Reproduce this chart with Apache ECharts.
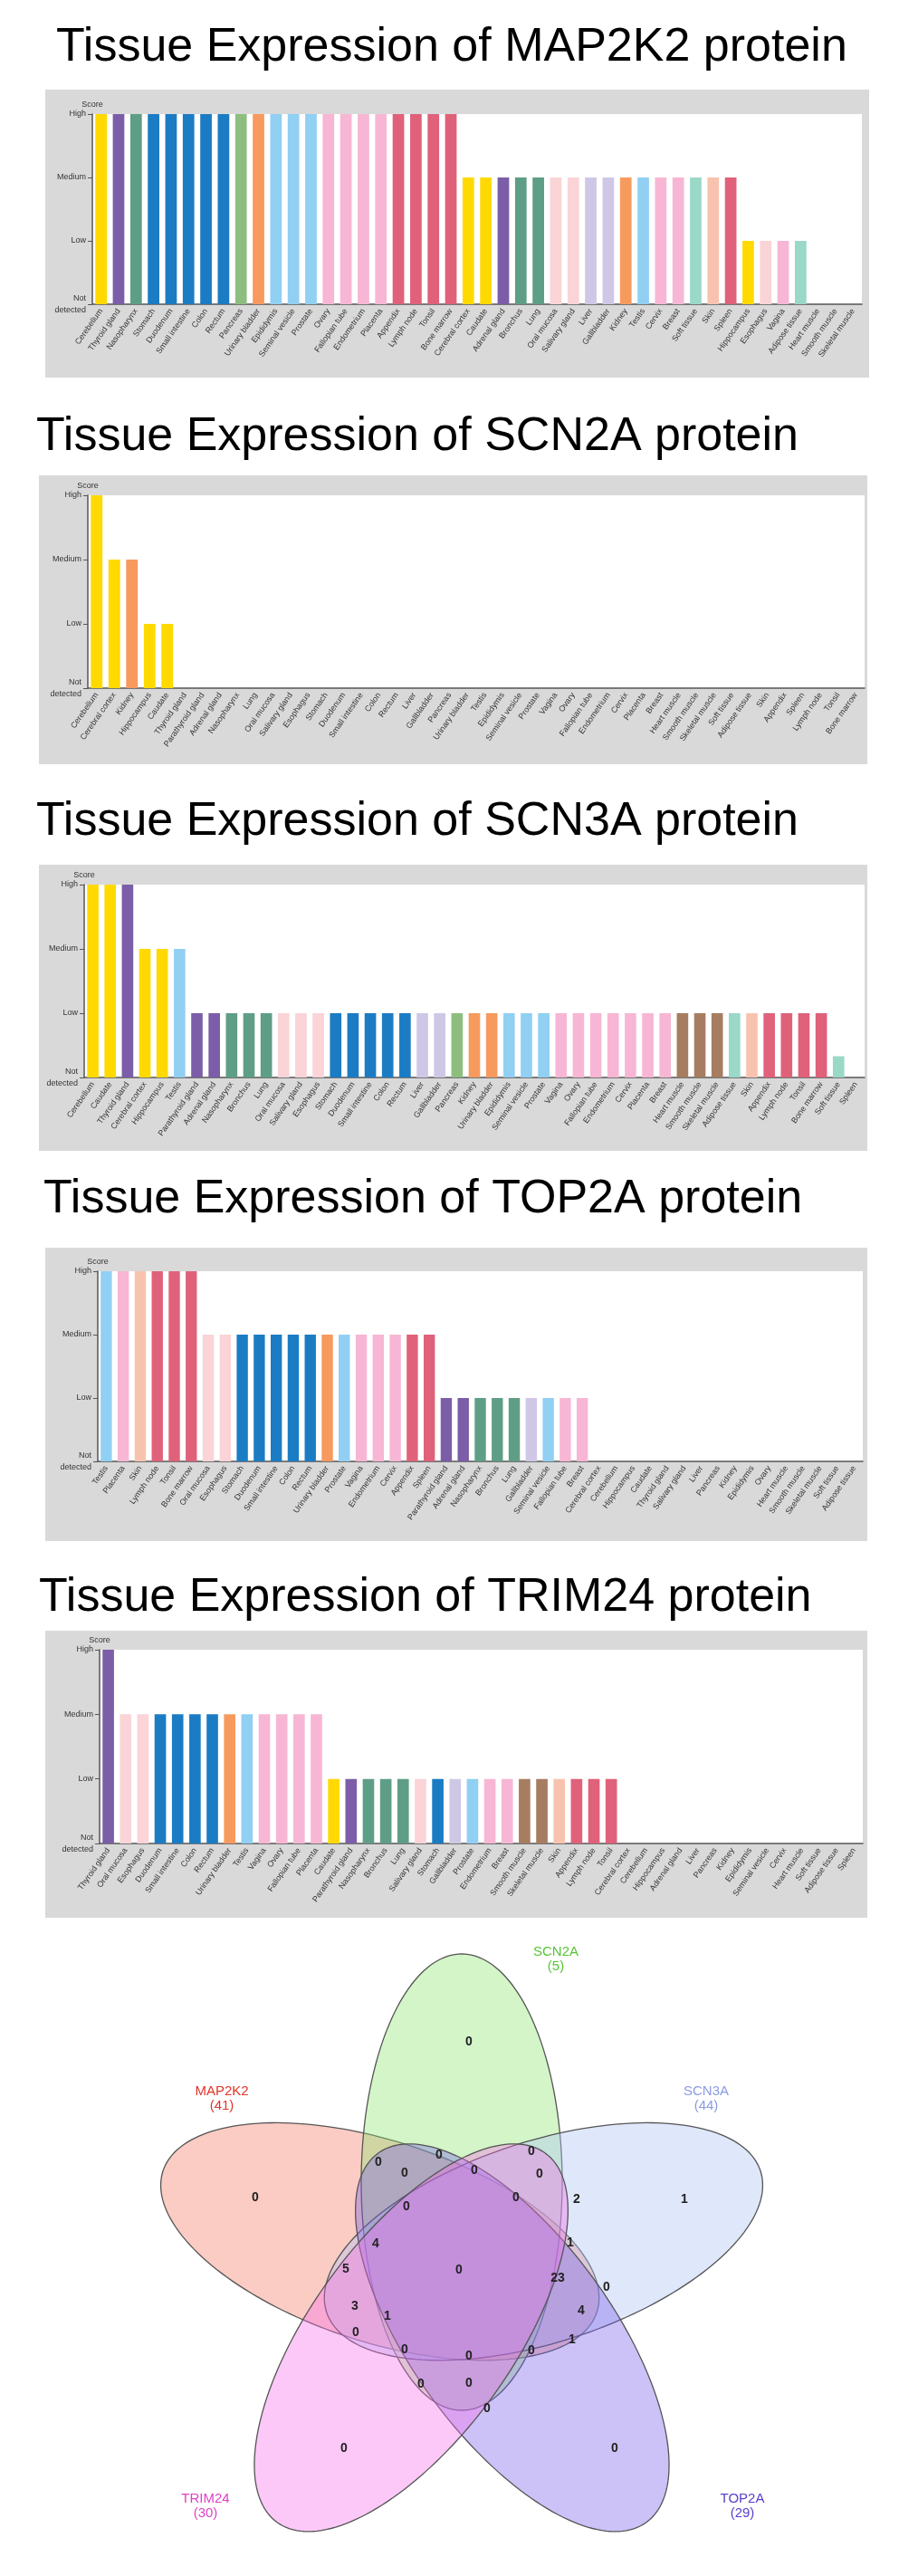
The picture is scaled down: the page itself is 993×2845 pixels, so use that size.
<!DOCTYPE html>
<html><head><meta charset="utf-8">
<script src="https://cdn.jsdelivr.net/npm/echarts@6/dist/echarts.min.js"></script>
<style>html,body{margin:0;padding:0;background:#fff}#c{width:993px;height:2845px}</style>
</head><body><div id="c"></div>
<script>
// ---------- DATA ----------
const LEVELS = ['Not\ndetected', 'Low', 'Medium', 'High'];
const PROTEINS = ['MAP2K2', 'SCN2A', 'SCN3A', 'TOP2A', 'TRIM24'];

const map2k2Tissues = ['Cerebellum','Thyroid gland','Nasopharynx','Stomach','Duodenum','Small intestine','Colon','Rectum','Pancreas','Urinary bladder','Epididymis','Seminal vesicle','Prostate','Ovary','Fallopian tube','Endometrium','Placenta','Appendix','Lymph node','Tonsil','Bone marrow','Cerebral cortex','Caudate','Adrenal gland','Bronchus','Lung','Oral mucosa','Salivary gland','Liver','Gallbladder','Kidney','Testis','Cervix','Breast','Soft tissue','Skin','Spleen','Hippocampus','Esophagus','Vagina','Adipose tissue','Heart muscle','Smooth muscle','Skeletal muscle'];
const map2k2Scores = [3,3,3,3,3,3,3,3,3,3,3,3,3,3,3,3,3,3,3,3,3,2,2,2,2,2,2,2,2,2,2,2,2,2,2,2,2,1,1,1,1,0,0,0];

const scn2aTissues = ['Cerebellum','Cerebral cortex','Kidney','Hippocampus','Caudate','Thyroid gland','Parathyroid gland','Adrenal gland','Nasopharynx','Lung','Oral mucosa','Salivary gland','Esophagus','Stomach','Duodenum','Small intestine','Colon','Rectum','Liver','Gallbladder','Pancreas','Urinary bladder','Testis','Epididymis','Seminal vesicle','Prostate','Vagina','Ovary','Fallopian tube','Endometrium','Cervix','Placenta','Breast','Heart muscle','Smooth muscle','Skeletal muscle','Soft tissue','Adipose tissue','Skin','Appendix','Spleen','Lymph node','Tonsil','Bone marrow'];
const scn2aScores = [3,2,2,1,1,0,0,0,0,0,0,0,0,0,0,0,0,0,0,0,0,0,0,0,0,0,0,0,0,0,0,0,0,0,0,0,0,0,0,0,0,0,0,0];

const scn3aTissues = ['Cerebellum','Caudate','Thyroid gland','Cerebral cortex','Hippocampus','Testis','Parathyroid gland','Adrenal gland','Nasopharynx','Bronchus','Lung','Oral mucosa','Salivary gland','Esophagus','Stomach','Duodenum','Small intestine','Colon','Rectum','Liver','Gallbladder','Pancreas','Kidney','Urinary bladder','Epididymis','Seminal vesicle','Prostate','Vagina','Ovary','Fallopian tube','Endometrium','Cervix','Placenta','Breast','Heart muscle','Smooth muscle','Skeletal muscle','Adipose tissue','Skin','Appendix','Lymph node','Tonsil','Bone marrow','Soft tissue','Spleen'];
const scn3aScores = [3,3,3,2,2,2,1,1,1,1,1,1,1,1,1,1,1,1,1,1,1,1,1,1,1,1,1,1,1,1,1,1,1,1,1,1,1,1,1,1,1,1,1,0.33,0];

const top2aTissues = ['Testis','Placenta','Skin','Lymph node','Tonsil','Bone marrow','Oral mucosa','Esophagus','Stomach','Duodenum','Small intestine','Colon','Rectum','Urinary bladder','Prostate','Vagina','Endometrium','Cervix','Appendix','Spleen','Parathyroid gland','Adrenal gland','Nasopharynx','Bronchus','Lung','Gallbladder','Seminal vesicle','Fallopian tube','Breast','Cerebral cortex','Cerebellum','Hippocampus','Caudate','Thyroid gland','Salivary gland','Liver','Pancreas','Kidney','Epididymis','Ovary','Heart muscle','Smooth muscle','Skeletal muscle','Soft tissue','Adipose tissue'];
const top2aScores = [3,3,3,3,3,3,2,2,2,2,2,2,2,2,2,2,2,2,2,2,1,1,1,1,1,1,1,1,1,0,0,0,0,0,0,0,0,0,0,0,0,0,0,0,0];

const trim24Tissues = ['Thyroid gland','Oral mucosa','Esophagus','Duodenum','Small intestine','Colon','Rectum','Urinary bladder','Testis','Vagina','Ovary','Fallopian tube','Placenta','Caudate','Parathyroid gland','Nasopharynx','Bronchus','Lung','Salivary gland','Stomach','Gallbladder','Prostate','Endometrium','Breast','Smooth muscle','Skeletal muscle','Skin','Appendix','Lymph node','Tonsil','Cerebral cortex','Cerebellum','Hippocampus','Adrenal gland','Liver','Pancreas','Kidney','Epididymis','Seminal vesicle','Cervix','Heart muscle','Soft tissue','Adipose tissue','Spleen'];
const trim24Scores = [3,2,2,2,2,2,2,2,2,2,2,2,2,1,1,1,1,1,1,1,1,1,1,1,1,1,1,1,1,1,0,0,0,0,0,0,0,0,0,0,0,0,0,0];

const VENN_SETS = ['MAP2K2','SCN2A','SCN3A','TOP2A','TRIM24'];
const VENN_TOTALS = [41, 5, 44, 29, 30];
const VENN_COUNTS = [0,0,1,0,0, 0,0,0,0,0,0,0,0,2, 4,1,5,0,23,0, 3,1,4,0,1, 0,0,0,0,0,0];

// ---------- STYLE / LAYOUT ----------
const GROUP_COLOR = {
  brain:'#FFD900', endo:'#7B5EA7', resp:'#5F9E86', gi:'#1B7CC4', prox:'#FAD4D6',
  liver:'#CFC7E6', panc:'#8DBE7F', kid:'#F79A5E', male:'#91CFF3', female:'#F7B6D4',
  muscle:'#A77D62', soft:'#9AD8C8', skin:'#F8C3AE', lymph:'#E0617A'
};
const TISSUE_GROUP = {
  'Cerebellum':'brain','Cerebral cortex':'brain','Caudate':'brain','Hippocampus':'brain',
  'Thyroid gland':'endo','Parathyroid gland':'endo','Adrenal gland':'endo',
  'Nasopharynx':'resp','Bronchus':'resp','Lung':'resp',
  'Stomach':'gi','Duodenum':'gi','Small intestine':'gi','Colon':'gi','Rectum':'gi',
  'Oral mucosa':'prox','Salivary gland':'prox','Esophagus':'prox',
  'Liver':'liver','Gallbladder':'liver','Pancreas':'panc',
  'Kidney':'kid','Urinary bladder':'kid',
  'Testis':'male','Epididymis':'male','Seminal vesicle':'male','Prostate':'male',
  'Vagina':'female','Ovary':'female','Fallopian tube':'female','Endometrium':'female','Cervix':'female','Placenta':'female','Breast':'female',
  'Heart muscle':'muscle','Smooth muscle':'muscle','Skeletal muscle':'muscle',
  'Adipose tissue':'soft','Soft tissue':'soft','Skin':'skin',
  'Appendix':'lymph','Spleen':'lymph','Lymph node':'lymph','Tonsil':'lymph','Bone marrow':'lymph'
};
const CHARTS = [
  {cats: map2k2Tissues, vals: map2k2Scores},
  {cats: scn2aTissues, vals: scn2aScores},
  {cats: scn3aTissues, vals: scn3aScores},
  {cats: top2aTissues, vals: top2aScores},
  {cats: trim24Tissues, vals: trim24Scores}
];
const TITLE_POS = [[57,22],[35,452],[35,877],[43,1294],[38,1734]];
const BOX = [[50,99,910,318],[43,525,915,319],[43,955,915,316],[50,1378,908,324],[50,1801,908,317]];
const GRID = [[102,126,850,210],[97,547,858,213],[93,977,862,213],[108,1404,845,210],[110,1822,843,214]];

const VENN_C = [510, 2505], VENN_D = 95, VENN_RX = 111, VENN_RY = 252;
const VENN_ANG = [-162, -90, -18, 54, 126];
const VENN_FILL = ['rgba(244,120,100,0.38)','rgba(140,230,110,0.38)','rgba(175,195,245,0.40)','rgba(120,95,235,0.38)','rgba(245,110,235,0.38)'];
const VENN_TXT = ['#e0352b','#58c437','#8a9be0','#5a3fc8','#e040c8'];
const VENN_LBL = [[245,2318],[614,2164],[780,2318],[820,2768],[227,2768]];
const VENN_POS = [[518,2255],[282,2427],[756,2429],[380,2704],[679,2704],
  [418,2388],[447,2400],[485,2380],[587,2376],[524,2397],[596,2401],[449,2437],[570,2427],[637,2429],
  [415,2478],[630,2477],[382,2506],[507,2507],[616,2516],[670,2526],
  [392,2547],[428,2558],[642,2552],[393,2576],[632,2584],
  [447,2595],[518,2602],[587,2596],[465,2633],[518,2632],[538,2660]];

const FONT = 'Liberation Sans, Arial, Helvetica, sans-serif';
const chart = echarts.init(document.getElementById('c'), null, {renderer:'canvas'});

const titles = [], grids = [], xAxes = [], yAxes = [], series = [], graphics = [];
CHARTS.forEach((c, i) => {
  titles.push({text: 'Tissue Expression of ' + PROTEINS[i] + ' protein', left: TITLE_POS[i][0], top: TITLE_POS[i][1],
    textStyle: {fontFamily: FONT, fontSize: 52, fontWeight: 'normal', color: '#000'}});
  const b = BOX[i];
  graphics.push({type:'rect', z:-100, shape:{x:b[0], y:b[1], width:b[2], height:b[3]}, style:{fill:'#d9d9d9'}});
  const g = GRID[i];
  grids.push({left:g[0], top:g[1], width:g[2], height:g[3], show:true, backgroundColor:'#fff', borderWidth:0, containLabel:false});
  xAxes.push({type:'category', gridIndex:i, data:c.cats,
    axisLine:{lineStyle:{color:'#555', width:1.5}}, axisTick:{alignWithLabel:true, length:4, lineStyle:{color:'#555'}},
    axisLabel:{interval:0, rotate:55, fontSize:9, color:'#333', fontFamily:FONT, margin:6}});
  yAxes.push({type:'value', gridIndex:i, min:0, max:3, interval:1, name:'Score',
    nameTextStyle:{fontSize:9, color:'#333', fontFamily:FONT, padding:[0,0,-2,0]}, nameGap:4,
    axisLine:{show:true, lineStyle:{color:'#555', width:1.5}}, axisTick:{show:true, length:5, lineStyle:{color:'#555'}},
    splitLine:{show:false},
    axisLabel:{fontSize:9, color:'#333', fontFamily:FONT, margin:7, lineHeight:13, formatter: v => LEVELS[v]}});
  series.push({type:'bar', xAxisIndex:i, yAxisIndex:i, data:c.vals, barWidth:'66%',
    itemStyle:{color: p => GROUP_COLOR[TISSUE_GROUP[c.cats[p.dataIndex]]]}});
});

// Venn ellipses
series.push({type:'custom', coordinateSystem:'none', silent:true, z:5,
  data: VENN_SETS.map((s, k) => [k]),
  renderItem: (params, api) => {
    const k = api.value(0);
    const a = VENN_ANG[k] * Math.PI / 180;
    const cx = VENN_C[0] + VENN_D * Math.cos(a), cy = VENN_C[1] + VENN_D * Math.sin(a);
    const pts = [];
    for (let t = 0; t < 180; t++) {
      const th = t / 180 * 2 * Math.PI;
      const u = VENN_RY * Math.cos(th), v = VENN_RX * Math.sin(th);
      pts.push([cx + u * Math.cos(a) - v * Math.sin(a), cy + u * Math.sin(a) + v * Math.cos(a)]);
    }
    return {type:'polygon', shape:{points:pts}, style:{fill:VENN_FILL[k], stroke:'#555', lineWidth:1.3}};
  }});
// Venn region counts
series.push({type:'custom', coordinateSystem:'none', silent:true, z:6,
  data: VENN_COUNTS.map((v, k) => [v, k]),
  renderItem: (params, api) => {
    const k = api.value(1);
    return {type:'text', style:{text:String(api.value(0)), x:VENN_POS[k][0], y:VENN_POS[k][1],
      align:'center', verticalAlign:'middle', fill:'#222', font:'bold 14px ' + FONT}};
  }});
// Venn set names
series.push({type:'custom', coordinateSystem:'none', silent:true, z:6,
  data: VENN_SETS.map((s, k) => [VENN_TOTALS[k], k]),
  renderItem: (params, api) => {
    const k = api.value(1);
    return {type:'text', style:{text:VENN_SETS[k] + '\n(' + api.value(0) + ')', x:VENN_LBL[k][0], y:VENN_LBL[k][1],
      align:'center', verticalAlign:'middle', fill:VENN_TXT[k], font:'15px ' + FONT, lineHeight:16}};
  }});

chart.setOption({animation:false, backgroundColor:'#fff', title:titles, grid:grids, xAxis:xAxes, yAxis:yAxes, series:series, graphic:{elements:graphics}});
</script></body></html>
